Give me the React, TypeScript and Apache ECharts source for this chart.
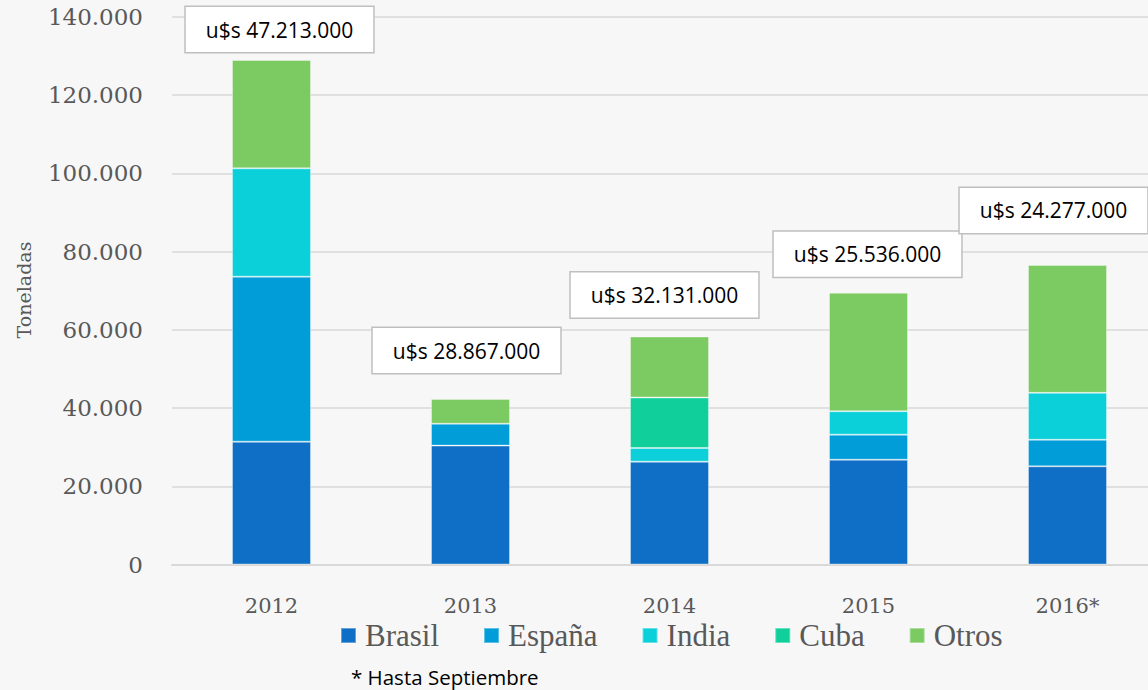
import React, { useEffect, useRef } from "react";
import * as echarts from "echarts";

const years = ["2012", "2013", "2014", "2015", "2016*"];
const brasil = [31400, 30400, 26300, 26800, 25100];
const espana = [42200, 5600, null, 6400, 6800];
const india = [27700, null, 3500, 6000, 12000];
const cuba = [null, null, 12900, null, null];
const otros = [27700, 6300, 15600, 30300, 32700];
const revenue = ["u$s 47.213.000", "u$s 28.867.000", "u$s 32.131.000", "u$s 25.536.000", "u$s 24.277.000"];
const yTicks = [0, 20000, 40000, 60000, 80000, 100000, 120000, 140000];

// label box layout (not data)
const labelOffsets: [number, number][] = [[8, -8], [-4, -26], [-5, -19], [-1, -16], [-14, -32]];

const colors = {
  Brasil: "#0F6FC6",
  España: "#009DD9",
  India: "#0BD0D9",
  Cuba: "#10CF9B",
  Otros: "#7CCA62",
};

const fmt = (v: number) => {
  const s = String(Math.round(v));
  return s.replace(/\B(?=(\d{3})+(?!\d))/g, ".");
};

export default function App() {
  const ref = useRef<HTMLDivElement>(null);
  useEffect(() => {
    const chart = echarts.init(ref.current!, null, { renderer: "svg" });
    const seriesDefs: [string, (number | null)[]][] = [
      ["Brasil", brasil],
      ["España", espana],
      ["India", india],
      ["Cuba", cuba],
      ["Otros", otros],
    ];
    const series = seriesDefs.map(([name, vals]) => {
      const isTop = name === "Otros";
      return {
        name,
        type: "bar",
        stack: "total",
        barWidth: 79,
        itemStyle: {
          color: (colors as any)[name],
          borderColor: "rgba(255,255,255,0.35)",
          borderWidth: 1,
        },
        data: vals.map((v, i) =>
          isTop
            ? {
                value: v,
                label: {
                  show: true,
                  position: "top",
                  distance: 0,
                  offset: labelOffsets[i],
                  formatter: () => revenue[i],
                  backgroundColor: "#ffffff",
                  borderColor: "#bfbfbf",
                  borderWidth: 1.5,
                  padding: [10, 20, 10, 20],
                  fontFamily: "Open Sans",
                  fontSize: 21,
                  lineHeight: 25,
                  color: "#000000",
                },
              }
            : v
        ),
      };
    });
    chart.setOption({
      animation: false,
      backgroundColor: "#f7f7f7",
      grid: {
        left: 172,
        width: 995,
        top: 17,
        height: 547.5,
        containLabel: false,
        outerBoundsMode: "none",
      },
      xAxis: {
        type: "category",
        data: years,
        axisLine: { show: true, lineStyle: { color: "#d9d9d9", width: 2 } },
        axisTick: { show: false },
        axisLabel: {
          margin: 31,
          fontFamily: "DejaVu Serif",
          fontSize: 21,
          color: "#595959",
        },
      },
      yAxis: {
        type: "value",
        min: yTicks[0],
        max: yTicks[yTicks.length - 1],
        interval: yTicks[1] - yTicks[0],
        axisLine: { show: false },
        axisTick: { show: false },
        splitLine: { lineStyle: { color: "#d9d9d9", width: 1.5 } },
        axisLabel: {
          margin: 29,
          fontFamily: "DejaVu Serif",
          fontSize: 23,
          color: "#595959",
          formatter: (v: number) => fmt(v),
        },
      },
      legend: {
        data: ["Brasil", "España", "India", "Cuba", "Otros"],
        left: 335,
        top: 615,
        icon: "rect",
        itemWidth: 15,
        itemHeight: 15,
        itemGap: 44,
        textStyle: {
          fontFamily: "Liberation Serif",
          fontSize: 31,
          lineHeight: 31,
          color: "#595959",
          padding: [0, 0, 0, 4],
        },
      },
      graphic: [
        {
          type: "text",
          x: 24,
          y: 290,
          rotation: Math.PI / 2,
          style: {
            text: "Toneladas",
            fontFamily: "DejaVu Serif",
            fontSize: 19,
            fill: "#595959",
            align: "center",
            verticalAlign: "middle",
          },
        },
        {
          type: "text",
          x: 351,
          y: 677,
          style: {
            text: "* Hasta Septiembre",
            fontFamily: "Open Sans",
            fontSize: 20.5,
            fill: "#000000",
            align: "left",
            verticalAlign: "middle",
          },
        },
      ],
      series,
    });
    return () => chart.dispose();
  }, []);
  return (
    <div
      ref={ref}
      style={{ position: "fixed", left: 0, top: 0, width: 1148, height: 690 }}
    />
  );
}
